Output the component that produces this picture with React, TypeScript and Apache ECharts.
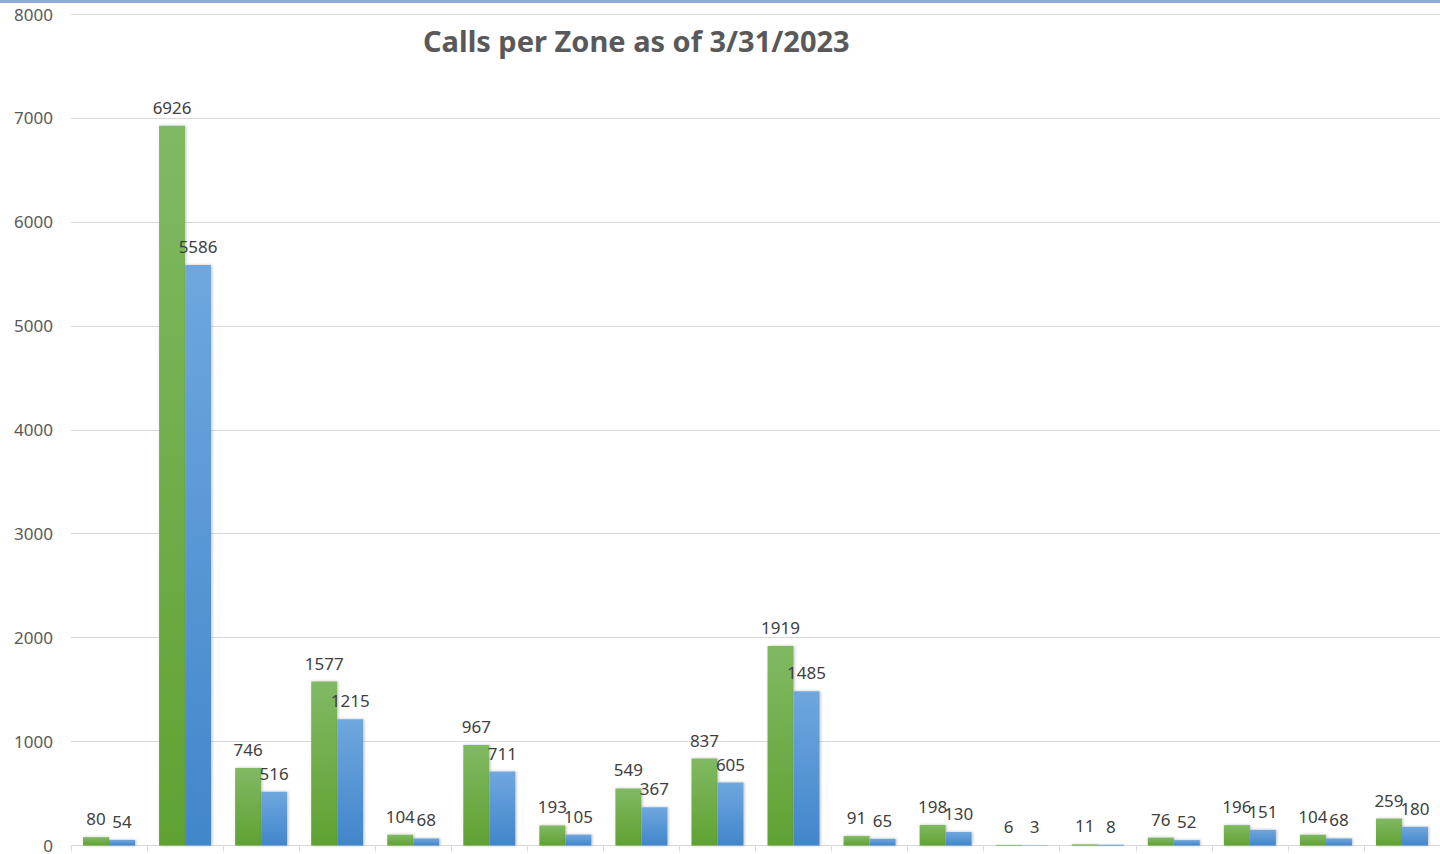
import React, { useEffect, useRef } from "react";
import * as echarts from "echarts";

const categories = [
  "Zone 1", "Zone 2", "Zone 3", "Zone 4", "Zone 5", "Zone 6", "Zone 7", "Zone 8", "Zone 9",
  "Zone 10", "Zone 11", "Zone 12", "Zone 13", "Zone 14", "Zone 15", "Zone 16", "Zone 17", "Zone 18",
];
const greenValues = [80, 6926, 746, 1577, 104, 967, 193, 549, 837, 1919, 91, 198, 6, 11, 76, 196, 104, 259];
const blueValues = [54, 5586, 516, 1215, 68, 711, 105, 367, 605, 1485, 65, 130, 3, 8, 52, 151, 68, 180];
const yTicks = { min: 0, max: 8000, interval: 1000 };
const title = "Calls per Zone as of 3/31/2023";

export default function App() {
  const ref = useRef<HTMLDivElement>(null);
  useEffect(() => {
    if (!ref.current) return;
    const chart = echarts.init(ref.current, undefined, { renderer: "svg" });
    const font = "'Noto Sans', sans-serif";
    const label = {
      show: true,
      position: "top" as const,
      distance: 10,
      color: "#404040",
      fontSize: 17,
      fontFamily: font,
    };
    chart.setOption({
      animation: false,
      backgroundColor: "#ffffff",
      title: {
        text: title,
        left: 418,
        top: 21,
        textStyle: { color: "#595959", fontSize: 29, fontWeight: "bold", fontFamily: font },
      },
      graphic: [
        {
          type: "rect",
          shape: { x: 0, y: 0, width: 1440, height: 3 },
          style: { fill: "#8eaadb" },
          z: 100,
        },
      ],
      grid: { left: 71, top: 14, width: 1372, height: 835 },
      xAxis: {
        type: "category",
        data: categories,
        axisLine: { show: true, lineStyle: { color: "#d9d9d9", width: 1 } },
        axisTick: { show: true, length: 6, lineStyle: { color: "#d9d9d9" } },
        axisLabel: { show: false },
      },
      yAxis: {
        type: "value",
        min: yTicks.min,
        max: yTicks.max,
        interval: yTicks.interval,
        axisLine: { show: false },
        axisTick: { show: false },
        splitLine: { lineStyle: { color: "#d9d9d9", width: 1 } },
        axisLabel: {
          color: "#595959",
          fontSize: 17,
          fontFamily: font,
          margin: 18,
          formatter: (v: number) => String(v),
        },
      },
      series: [
        {
          type: "bar",
          name: "Green",
          data: greenValues,
          barWidth: 26,
          barGap: "0%",
          label,
          itemStyle: {
            color: new echarts.graphic.LinearGradient(0, 0, 0, 1, [
              { offset: 0, color: "#80b963" },
              { offset: 1, color: "#60a232" },
            ]),
            shadowColor: "rgba(0,0,0,0.25)",
            shadowBlur: 3,
            shadowOffsetX: 1,
          },
        },
        {
          type: "bar",
          name: "Blue",
          data: blueValues,
          barWidth: 26,
          barGap: "0%",
          label,
          itemStyle: {
            color: new echarts.graphic.LinearGradient(0, 0, 0, 1, [
              { offset: 0, color: "#6fa7de" },
              { offset: 1, color: "#4186cb" },
            ]),
            shadowColor: "rgba(0,0,0,0.25)",
            shadowBlur: 3,
            shadowOffsetX: 1,
          },
        },
      ],
    });
    return () => chart.dispose();
  }, []);
  return (
    <div
      ref={ref}
      style={{ position: "fixed", left: 0, top: 0, width: 1440, height: 854, background: "#fff" }}
    />
  );
}
